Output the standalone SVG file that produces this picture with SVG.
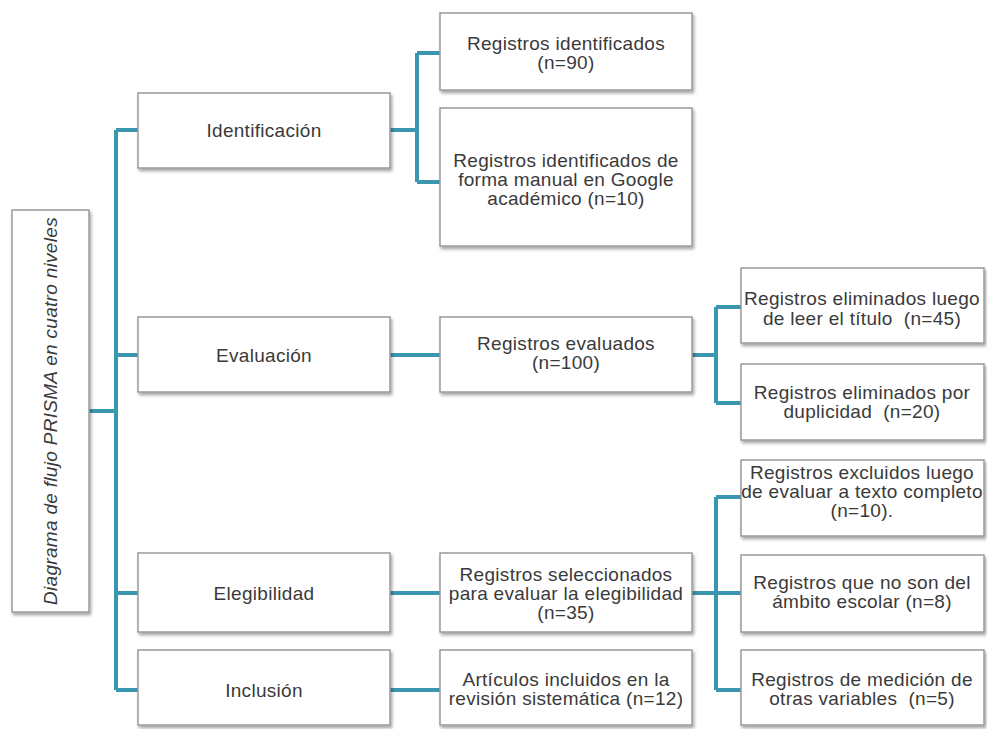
<svg xmlns="http://www.w3.org/2000/svg" width="987" height="729" viewBox="0 0 987 729">
<defs>
<filter id="sh" x="-10%" y="-10%" width="130%" height="130%">
<feDropShadow dx="1.5" dy="2.5" stdDeviation="1.5" flood-color="#000" flood-opacity="0.35"/>
</filter>
</defs>
<style>
.box{fill:#fff;stroke:#9a9a9a;stroke-width:1.5;filter:url(#sh)}
.t{font-family:"Liberation Sans",Arial,sans-serif;font-size:19px;letter-spacing:0.3px;fill:#3a3a3a;text-anchor:middle}
.c{fill:none;stroke:#3b96b0;stroke-width:4;stroke-linejoin:miter}
</style>
<rect width="987" height="729" fill="#fff"/>
<g id="connectors">
<path class="c" d="M89,411 H116 M116,130 V690 M116,130 H138 M116,355 H138 M116,593 H138 M116,690 H138"/>
<path class="c" d="M390,130 H417 M417,53 V182 M417,53 H440 M417,182 H440"/>
<path class="c" d="M390,355 H440"/>
<path class="c" d="M692,355 H716 M716,307 V403 M716,307 H741 M716,403 H741"/>
<path class="c" d="M390,593 H440"/>
<path class="c" d="M692,593 H741 M716,497 V690 M716,497 H741 M716,690 H741"/>
<path class="c" d="M390,690 H440"/>
</g>
<g id="root">
<rect class="box" x="12" y="210" width="77" height="402"/>
<text class="t" font-style="italic" transform="translate(57,411) rotate(-90)" x="0" y="0">Diagrama de flujo PRISMA en cuatro niveles</text>
</g>
<g id="identificacion">
<rect class="box" x="138" y="93" width="252" height="75"/>
<text class="t" x="264" y="137">Identificación</text>
</g>
<g id="reg-identificados">
<rect class="box" x="440" y="13" width="252" height="77"/>
<text class="t" x="566" y="50">Registros identificados</text>
<text class="t" x="566" y="69">(n=90)</text>
</g>
<g id="reg-manual">
<rect class="box" x="440" y="108" width="252" height="138"/>
<text class="t" x="566" y="167">Registros identificados de</text>
<text class="t" x="566" y="186">forma manual en Google</text>
<text class="t" x="566" y="205">académico (n=10)</text>
</g>
<g id="evaluacion">
<rect class="box" x="138" y="317" width="252" height="75"/>
<text class="t" x="264" y="362">Evaluación</text>
</g>
<g id="reg-evaluados">
<rect class="box" x="440" y="317" width="252" height="75"/>
<text class="t" x="566" y="350">Registros evaluados</text>
<text class="t" x="566" y="369">(n=100)</text>
</g>
<g id="elim-titulo">
<rect class="box" x="741" y="268" width="243" height="75"/>
<text class="t" x="862" y="305">Registros eliminados luego</text>
<text class="t" x="862" y="325" xml:space="preserve">de leer el título  (n=45)</text>
</g>
<g id="elim-duplicidad">
<rect class="box" x="741" y="364" width="243" height="76"/>
<text class="t" x="862" y="399">Registros eliminados por</text>
<text class="t" x="862" y="418" xml:space="preserve">duplicidad  (n=20)</text>
</g>
<g id="elegibilidad">
<rect class="box" x="138" y="553" width="252" height="79"/>
<text class="t" x="264" y="600">Elegibilidad</text>
</g>
<g id="reg-seleccionados">
<rect class="box" x="440" y="553" width="252" height="79"/>
<text class="t" x="566" y="581">Registros seleccionados</text>
<text class="t" x="566" y="600">para evaluar la elegibilidad</text>
<text class="t" x="566" y="619">(n=35)</text>
</g>
<g id="excl-texto">
<rect class="box" x="741" y="460" width="243" height="76"/>
<text class="t" x="862" y="479">Registros excluidos luego</text>
<text class="t" x="862" y="498">de evaluar a texto completo</text>
<text class="t" x="862" y="517">(n=10).</text>
</g>
<g id="no-escolar">
<rect class="box" x="741" y="555" width="243" height="77"/>
<text class="t" x="862" y="589">Registros que no son del</text>
<text class="t" x="862" y="608">ámbito escolar (n=8)</text>
</g>
<g id="otras-variables">
<rect class="box" x="741" y="650" width="243" height="75"/>
<text class="t" x="862" y="686">Registros de medición de</text>
<text class="t" x="862" y="705" xml:space="preserve">otras variables  (n=5)</text>
</g>
<g id="inclusion">
<rect class="box" x="138" y="650" width="252" height="75"/>
<text class="t" x="264" y="697">Inclusión</text>
</g>
<g id="articulos">
<rect class="box" x="440" y="650" width="252" height="75"/>
<text class="t" x="566" y="686">Artículos incluidos en la</text>
<text class="t" x="566" y="705">revisión sistemática (n=12)</text>
</g>
</svg>
